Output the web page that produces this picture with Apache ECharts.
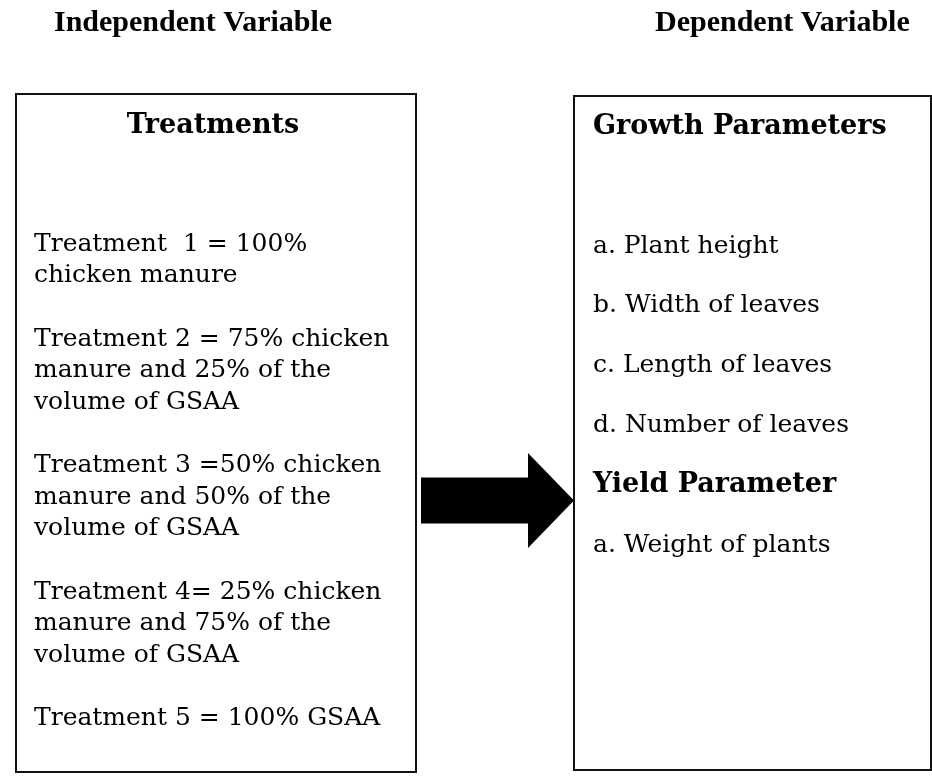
<!DOCTYPE html>
<html>
<head>
<meta charset="utf-8">
<script src="https://cdn.jsdelivr.net/npm/echarts@6/dist/echarts.min.js"></script>
<style>
html,body{margin:0;padding:0;background:#fff;}
#chart{width:932px;height:778px;}
</style>
</head>
<body>
<div id="chart"></div>
<script>
// ---- content ----
const columnHeaders = ['Independent Variable', 'Dependent Variable'];
const leftTitle = 'Treatments';
const treatments = [
  ['Treatment  1 = 100%', 'chicken manure'],
  ['Treatment 2 = 75% chicken', 'manure and 25% of the', 'volume of GSAA'],
  ['Treatment 3 =50% chicken', 'manure and 50% of the', 'volume of GSAA'],
  ['Treatment 4= 25% chicken', 'manure and 75% of the', 'volume of GSAA'],
  ['Treatment 5 = 100% GSAA']
];
const growthTitle = 'Growth Parameters';
const growthParams = ['a. Plant height', 'b. Width of leaves', 'c. Length of leaves', 'd. Number of leaves'];
const yieldTitle = 'Yield Parameter';
const yieldParams = ['a. Weight of plants'];

// ---- layout ----
const BODY_FONT = '"DejaVu Serif", Georgia, serif';
const HEAD_FONT = '"Liberation Serif", "Times New Roman", serif';
const bodySize = 25, boldSize = 27, headSize = 30;
const leftBox = {x1: 16, y1: 94, x2: 416, y2: 772};
const rightBox = {x1: 574, y1: 96, x2: 931, y2: 770};
const stroke = '#111';

const graphic = [];
function txt(s, x, baseline, opts) {
  opts = opts || {};
  const size = opts.size || bodySize;
  graphic.push({
    type: 'text', x: x, y: baseline - Math.round(size * 0.3),
    style: {
      text: s, fill: '#000',
      font: (opts.bold ? 'bold ' : '') + size + 'px ' + (opts.family || BODY_FONT),
      textAlign: opts.align || 'left', textVerticalAlign: 'middle', verticalAlign: 'middle'
    }
  });
}
function box(b) {
  graphic.push({
    type: 'rect',
    shape: {x: b.x1, y: b.y1, width: b.x2 - b.x1, height: b.y2 - b.y1},
    style: {fill: 'none', stroke: stroke, lineWidth: 2}
  });
}

// column headers
txt(columnHeaders[0], 54, 32, {bold: true, size: headSize, family: HEAD_FONT});
txt(columnHeaders[1], 655, 32, {bold: true, size: headSize, family: HEAD_FONT});

// boxes
box(leftBox);
box(rightBox);

// left content
txt(leftTitle, 213, 134, {bold: true, size: boldSize, align: 'center'});
let yb = 252;
const lineH = 31.5, paraGap = 32;
treatments.forEach(function (para) {
  para.forEach(function (line, i) {
    txt(line, 34, yb + i * lineH);
  });
  yb += para.length * lineH + paraGap;
});

// right content
txt(growthTitle, 593, 135, {bold: true, size: boldSize});
const rows = [];
growthParams.forEach(function (s) { rows.push({s: s, bold: false}); });
rows.push({s: yieldTitle, bold: true});
yieldParams.forEach(function (s) { rows.push({s: s, bold: false}); });
rows.forEach(function (r, i) {
  txt(r.s, 593, 254 + i * 59.8, r.bold ? {bold: true, size: boldSize} : {});
});

// arrow between boxes
const ax0 = leftBox.x2 + 5, axHead = 528, axTip = rightBox.x1, acy = 500.5;
const bodyHalf = 23, headHalf = 47.5;
graphic.push({
  type: 'polygon',
  shape: {points: [
    [ax0, acy - bodyHalf], [axHead, acy - bodyHalf], [axHead, acy - headHalf],
    [axTip, acy], [axHead, acy + headHalf], [axHead, acy + bodyHalf], [ax0, acy + bodyHalf]
  ]},
  style: {fill: '#000', stroke: 'none'}
});

const chart = echarts.init(document.getElementById('chart'), null, {renderer: 'canvas'});
chart.setOption({
  backgroundColor: '#fff',
  animation: false,
  graphic: graphic
});
</script>
</body>
</html>
